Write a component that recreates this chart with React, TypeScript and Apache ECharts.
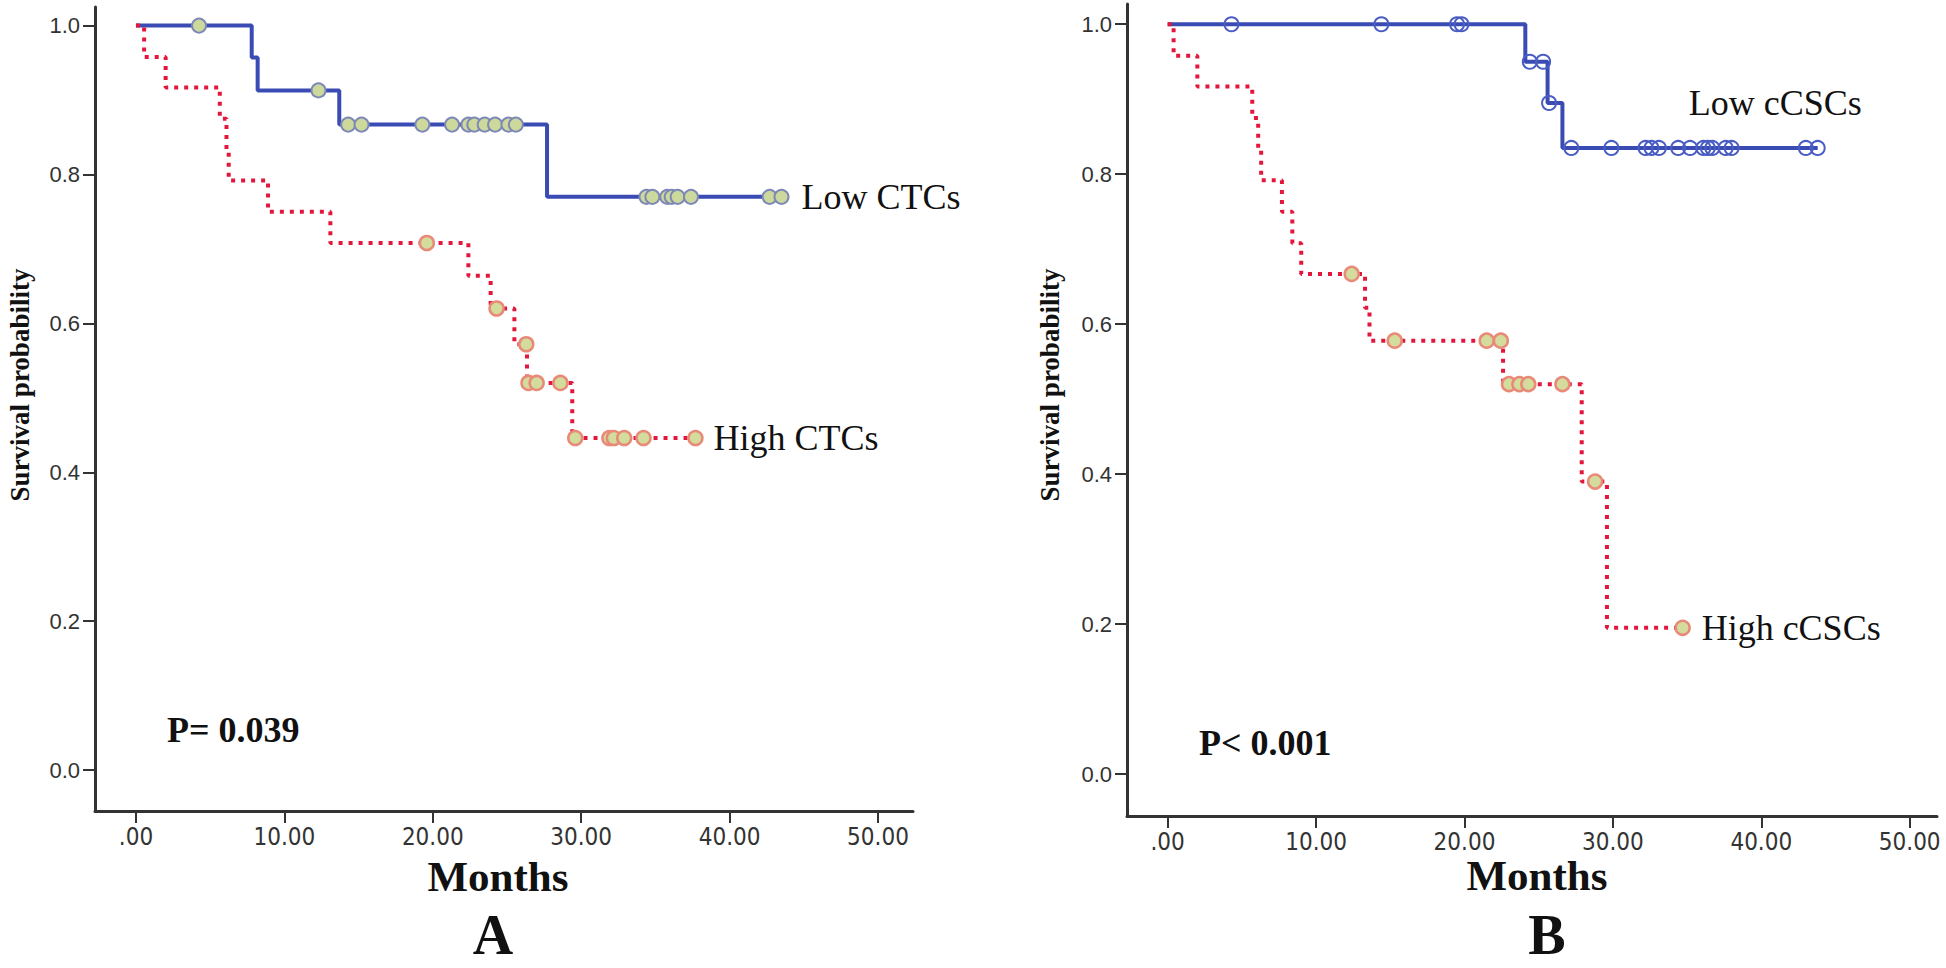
import React, { useEffect, useRef } from "react";
import * as echarts from "echarts";

// ---------- axis ticks ----------
const xTickValues = [0, 10, 20, 30, 40, 50];
const xTickLabels = [".00", "10.00", "20.00", "30.00", "40.00", "50.00"];
const yTickValues = [0, 0.2, 0.4, 0.6, 0.8, 1.0];
const yTickLabels = ["0.0", "0.2", "0.4", "0.6", "0.8", "1.0"];

// ---------- Panel A : CTCs ----------
const lowCTCsTimes = [0, 7.8, 8.2, 13.7, 27.7, 43.5];
const lowCTCsSurv = [1.0, 0.957, 0.913, 0.867, 0.77, 0.77];
const lowCTCsCensored = [4.25, 12.3, 14.3, 15.2, 19.3, 21.3, 22.4, 22.8, 23.5, 24.2, 25.1, 25.6, 34.4, 34.8, 35.8, 36.1, 36.5, 37.4, 42.7, 43.5];

const highCTCsTimes = [0, 0.55, 2.0, 5.65, 6.1, 6.25, 8.9, 13.1, 22.4, 23.9, 25.5, 26.35, 29.4, 37.7];
const highCTCsSurv = [1.0, 0.958, 0.917, 0.875, 0.833, 0.792, 0.75, 0.708, 0.664, 0.62, 0.572, 0.52, 0.446, 0.446];
const highCTCsCensored = [19.6, 24.3, 26.3, 26.45, 27.0, 28.6, 29.6, 31.9, 32.2, 32.9, 34.2, 37.7];

// ---------- Panel B : cCSCs ----------
const lowCSCsTimes = [0, 24.1, 25.6, 26.6, 43.8];
const lowCSCsSurv = [1.0, 0.95, 0.895, 0.835, 0.835];
const lowCSCsCensored = [4.3, 14.4, 19.5, 19.8, 24.4, 25.3, 25.7, 27.2, 29.9, 32.2, 32.6, 33.1, 34.4, 35.2, 36.1, 36.4, 36.7, 37.6, 38.0, 43.0, 43.8];

const highCSCsTimes = [0, 0.4, 2.0, 5.7, 6.1, 6.3, 7.7, 8.4, 9.0, 13.3, 13.6, 22.6, 27.9, 29.6, 34.7];
const highCSCsSurv = [1.0, 0.958, 0.917, 0.875, 0.833, 0.792, 0.75, 0.708, 0.667, 0.622, 0.578, 0.52, 0.39, 0.195, 0.195];
const highCSCsCensored = [12.4, 15.3, 21.5, 22.45, 23.0, 23.7, 24.3, 26.6, 28.8, 34.7];

const seriesNames = ["Low CTCs", "High CTCs", "Low cCSCs", "High cCSCs"];
const pValues = ["P= 0.039", "P< 0.001"];
const panelLetters = ["A", "B"];

const BLUE = "#3a4cb4";
const RED = "#e3173c";
const AXIS = "#333";
const SERIF = "'Liberation Serif', 'Times New Roman', serif";
const SANS = "'Liberation Sans', Arial, sans-serif";
const NARROW = "'Liberation Sans Narrow', 'DejaVu Sans Condensed', sans-serif";

const stepData = (t: number[], s: number[]) => t.map((v, i) => [v, s[i]]);
const levelAt = (t: number[], s: number[], x: number) => {
  let lv = s[0];
  for (let i = 0; i < t.length; i++) if (t[i] <= x) lv = s[i];
  return lv;
};
const censorData = (t: number[], s: number[], c: number[]) => c.map((x) => [x, levelAt(t, s, x)]);

const lookup = (vals: number[], labels: string[], v: number) => {
  const i = vals.findIndex((q) => Math.abs(q - v) < 1e-6);
  return i >= 0 ? labels[i] : "";
};

function makeX(gridIndex: number, min: number, max: number) {
  return {
    type: "value",
    gridIndex,
    min,
    max,
    axisLine: { show: true, onZero: false, lineStyle: { color: AXIS, width: 3 } },
    axisTick: { show: true, customValues: xTickValues, length: 12, lineStyle: { color: AXIS, width: 2 } },
    axisLabel: {
      customValues: xTickValues,
      formatter: (v: number) => lookup(xTickValues, xTickLabels, v),
      margin: 14,
      fontFamily: NARROW,
      fontSize: 24,
      color: "#333",
    },
    splitLine: { show: false },
  };
}

function makeY(gridIndex: number, min: number, max: number) {
  return {
    type: "value",
    gridIndex,
    min,
    max,
    axisLine: { show: true, onZero: false, lineStyle: { color: AXIS, width: 3 } },
    axisTick: { show: true, customValues: yTickValues, length: 12, lineStyle: { color: AXIS, width: 2 } },
    axisLabel: {
      customValues: yTickValues,
      formatter: (v: number) => lookup(yTickValues, yTickLabels, v),
      margin: 15,
      fontFamily: SANS,
      fontSize: 22,
      color: "#333",
    },
    splitLine: { show: false },
  };
}

const labelStyle = { fontFamily: SERIF, fontSize: 36, color: "#111" };

export default function App() {
  const ref = useRef<HTMLDivElement>(null);
  useEffect(() => {
    if (!ref.current) return;
    const chart = echarts.init(ref.current, undefined, { renderer: "svg" });
    const option: any = {
      animation: false,
      backgroundColor: "#fff",
      grid: [
        { left: 95, top: 7, width: 818, height: 804 },
        { left: 1127, top: 4, width: 810, height: 812 },
      ],
      xAxis: [makeX(0, -2.76, 52.36), makeX(1, -2.74, 51.84)],
      yAxis: [makeY(0, -0.055, 1.025), makeY(1, -0.056, 1.027)],
      series: [
        {
          name: seriesNames[0],
          type: "line",
          step: "end",
          xAxisIndex: 0,
          yAxisIndex: 0,
          data: stepData(lowCTCsTimes, lowCTCsSurv),
          showSymbol: false,
          lineStyle: { color: BLUE, width: 4 },
          endLabel: { show: true, formatter: seriesNames[0], distance: 20, ...labelStyle },
          z: 2,
        },
        {
          name: seriesNames[1],
          type: "line",
          step: "end",
          xAxisIndex: 0,
          yAxisIndex: 0,
          data: stepData(highCTCsTimes, highCTCsSurv),
          showSymbol: false,
          lineStyle: { color: RED, width: 4, type: [4, 6], cap: "butt" },
          endLabel: { show: true, formatter: seriesNames[1], distance: 18, ...labelStyle },
          z: 2,
        },
        {
          type: "scatter",
          xAxisIndex: 0,
          yAxisIndex: 0,
          data: censorData(lowCTCsTimes, lowCTCsSurv, lowCTCsCensored),
          symbol: "circle",
          symbolSize: 14,
          itemStyle: { color: "#ccd89c", borderColor: "#7d88b6", borderWidth: 2, opacity: 1 },
          z: 5,
        },
        {
          type: "scatter",
          xAxisIndex: 0,
          yAxisIndex: 0,
          data: censorData(highCTCsTimes, highCTCsSurv, highCTCsCensored),
          symbol: "circle",
          symbolSize: 14,
          itemStyle: { color: "#d3dc9c", borderColor: "#e98a78", borderWidth: 2.5, opacity: 1 },
          z: 5,
        },
        {
          name: seriesNames[2],
          type: "line",
          step: "end",
          xAxisIndex: 1,
          yAxisIndex: 1,
          data: stepData(lowCSCsTimes, lowCSCsSurv),
          showSymbol: false,
          lineStyle: { color: BLUE, width: 4 },
          endLabel: { show: true, formatter: seriesNames[2], distance: 20, offset: [-149, -45], ...labelStyle },
          z: 2,
        },
        {
          name: seriesNames[3],
          type: "line",
          step: "end",
          xAxisIndex: 1,
          yAxisIndex: 1,
          data: stepData(highCSCsTimes, highCSCsSurv),
          showSymbol: false,
          lineStyle: { color: RED, width: 4, type: [4, 6], cap: "butt" },
          endLabel: { show: true, formatter: seriesNames[3], distance: 19, ...labelStyle },
          z: 2,
        },
        {
          type: "scatter",
          xAxisIndex: 1,
          yAxisIndex: 1,
          data: censorData(lowCSCsTimes, lowCSCsSurv, lowCSCsCensored),
          symbol: "circle",
          symbolSize: 14,
          itemStyle: { color: "rgba(255,255,255,0)", borderColor: "#4a5dc4", borderWidth: 2, opacity: 1 },
          z: 5,
        },
        {
          type: "scatter",
          xAxisIndex: 1,
          yAxisIndex: 1,
          data: censorData(highCSCsTimes, highCSCsSurv, highCSCsCensored),
          symbol: "circle",
          symbolSize: 14,
          itemStyle: { color: "#d3dc9c", borderColor: "#e98a78", borderWidth: 2.5, opacity: 1 },
          z: 5,
        },
      ],
      graphic: [
        {
          type: "text",
          x: 20,
          y: 385,
          rotation: Math.PI / 2,
          style: { text: "Survival probability", font: `bold 27px ${SERIF}`, fill: "#111", align: "center", verticalAlign: "middle" },
        },
        {
          type: "text",
          x: 1050,
          y: 385,
          rotation: Math.PI / 2,
          style: { text: "Survival probability", font: `bold 27px ${SERIF}`, fill: "#111", align: "center", verticalAlign: "middle" },
        },
        { type: "text", x: 498, y: 876, style: { text: "Months", font: `bold 43px ${SERIF}`, fill: "#111", align: "center", verticalAlign: "middle" } },
        { type: "text", x: 1537, y: 875, style: { text: "Months", font: `bold 43px ${SERIF}`, fill: "#111", align: "center", verticalAlign: "middle" } },
        { type: "text", x: 493, y: 935, style: { text: panelLetters[0], font: `bold 56px ${SERIF}`, fill: "#111", align: "center", verticalAlign: "middle" } },
        { type: "text", x: 1547, y: 935, style: { text: panelLetters[1], font: `bold 56px ${SERIF}`, fill: "#111", align: "center", verticalAlign: "middle" } },
        { type: "text", x: 167, y: 730, style: { text: pValues[0], font: `bold 36px ${SERIF}`, fill: "#111", align: "left", verticalAlign: "middle" } },
        { type: "text", x: 1199, y: 743, style: { text: pValues[1], font: `bold 36px ${SERIF}`, fill: "#111", align: "left", verticalAlign: "middle" } },
      ],
    };
    chart.setOption(option);
    return () => chart.dispose();
  }, []);
  return (
    <div
      ref={ref}
      style={{ position: "absolute", left: 0, top: 0, width: 1946, height: 968, background: "#fff" }}
    />
  );
}
